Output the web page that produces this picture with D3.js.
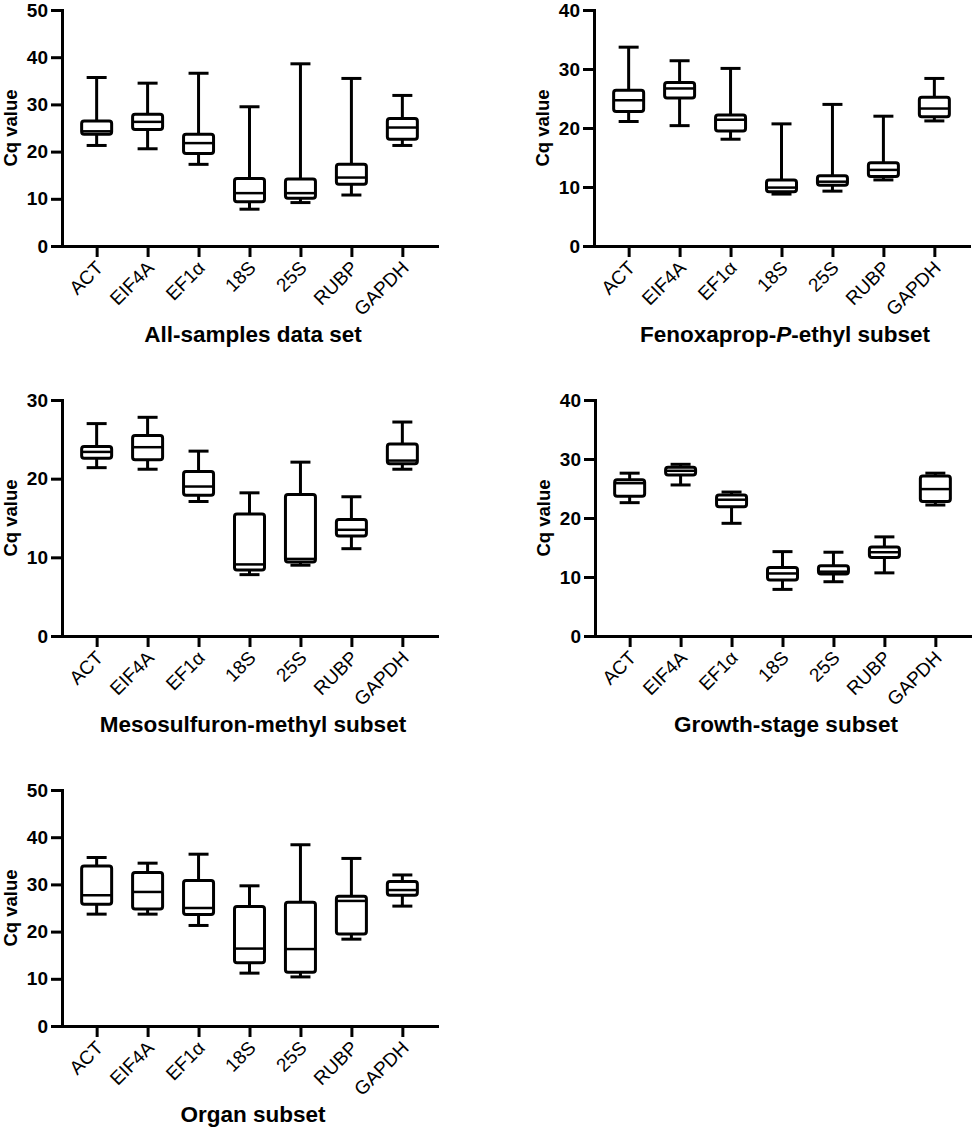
<!DOCTYPE html>
<html>
<head>
<meta charset="utf-8">
<script src="https://cdn.jsdelivr.net/npm/d3@7"></script>
<style>
  body { margin: 0; background: #fff; }
  svg { display: block; }
  text { font-family: "Liberation Sans", Arial, sans-serif; fill: #000; }
</style>
</head>
<body>
<svg id="chart" width="975" height="1128"></svg>
<script>
// Gene names (x categories)
const genes = ["ACT", "EIF4A", "EF1α", "18S", "25S", "RUBP", "GAPDH"];

// Five-number summaries per gene: [min, q1, median, q3, max]
const allSamples = [
  [21.3, 23.7, 24.3, 26.5, 35.7],
  [20.6, 24.7, 26.3, 27.9, 34.5],
  [17.3, 19.6, 21.8, 23.7, 36.6],
  [7.8, 9.4, 11.2, 14.3, 29.5],
  [9.2, 10.1, 11.2, 14.2, 38.6],
  [10.8, 13.1, 14.5, 17.3, 35.5],
  [21.3, 22.6, 25.1, 27.0, 31.9]
];
const fenoxaprop = [
  [21.1, 22.8, 24.7, 26.4, 33.7],
  [20.4, 25.1, 26.7, 27.7, 31.4],
  [18.1, 19.5, 21.4, 22.2, 30.1],
  [8.8, 9.2, 9.9, 11.2, 20.7],
  [9.3, 10.3, 10.9, 11.9, 24.0],
  [11.2, 11.8, 12.9, 14.1, 22.0],
  [21.2, 21.9, 23.3, 25.2, 28.4]
];
const mesosulfuron = [
  [21.4, 22.6, 23.4, 24.1, 27.0],
  [21.2, 22.4, 24.0, 25.5, 27.8],
  [17.1, 17.9, 19.0, 20.9, 23.5],
  [7.8, 8.4, 9.1, 15.5, 18.2],
  [9.0, 9.4, 9.8, 18.0, 22.1],
  [11.1, 12.7, 13.5, 14.8, 17.7],
  [21.2, 21.9, 22.3, 24.4, 27.2]
];
const growthStage = [
  [22.6, 23.7, 25.9, 26.5, 27.6],
  [25.6, 27.3, 28.0, 28.6, 29.1],
  [19.1, 21.9, 23.1, 23.9, 24.4],
  [7.9, 9.5, 10.6, 11.6, 14.3],
  [9.2, 10.5, 10.9, 11.9, 14.2],
  [10.7, 13.3, 14.2, 15.1, 16.8],
  [22.2, 22.8, 24.9, 27.1, 27.6]
];
const organ = [
  [23.7, 25.8, 27.7, 33.9, 35.7],
  [23.7, 24.8, 28.4, 32.5, 34.5],
  [21.3, 23.6, 25.0, 30.8, 36.4],
  [11.2, 13.4, 16.4, 25.3, 29.7],
  [10.4, 11.4, 16.3, 26.2, 38.4],
  [18.4, 19.5, 26.5, 27.5, 35.5],
  [25.4, 27.7, 28.8, 30.6, 32.0]
];

// Y-axis maxima per panel
const yMaxima = [50, 40, 30, 40, 50];
const yTickStep = 10;
const yLabel = "Cq value";
const panelTitles = [
  ["All-samples data set"],
  ["Fenoxaprop-", "P", "-ethyl subset"],
  ["Mesosulfuron-methyl subset"],
  ["Growth-stage subset"],
  ["Organ subset"]
];
const panelData = [allSamples, fenoxaprop, mesosulfuron, growthStage, organ];

// Layout
const panels = [
  { ox: 62,  bottom: 246 },
  { ox: 594, bottom: 246 },
  { ox: 62,  bottom: 636 },
  { ox: 595, bottom: 636 },
  { ox: 62,  bottom: 1026 }
];
const plotH = 236, plotW = 375;
const svg = d3.select("#chart");

panels.forEach((p, pi) => {
  const g = svg.append("g").attr("transform", `translate(${p.ox},${p.bottom - plotH})`);
  const data = panelData[pi];
  const ymax = yMaxima[pi];

  const y = d3.scaleLinear().domain([0, ymax]).range([plotH, 0]);
  const x = d3.scalePoint().domain(genes).range([0, plotW]).padding(0.68);

  // Y axis
  const yAxis = g.append("g")
    .call(d3.axisLeft(y)
      .tickValues(d3.range(0, ymax + 0.1, yTickStep))
      .tickSize(11).tickSizeOuter(0).tickPadding(3));
  yAxis.select(".domain").attr("stroke-width", 3).attr("stroke-linecap", "square");
  yAxis.selectAll(".tick line").attr("stroke-width", 3);
  yAxis.selectAll(".tick text")
    .style("font-size", "19px").style("font-weight", "bold");

  // X axis
  const xAxis = g.append("g").attr("transform", `translate(0,${plotH})`)
    .call(d3.axisBottom(x).tickSize(11).tickSizeOuter(0));
  xAxis.select(".domain").attr("stroke-width", 3).attr("stroke-linecap", "square");
  xAxis.selectAll(".tick line").attr("stroke-width", 3);
  xAxis.selectAll(".tick text")
    .attr("x", 0).attr("y", 0).attr("dy", 0)
    .attr("transform", "translate(7,23) rotate(-45)")
    .style("text-anchor", "end")
    .style("font-size", "19px");

  // Y label
  g.append("text")
    .attr("transform", `translate(${-45},${plotH / 2}) rotate(-90)`)
    .attr("text-anchor", "middle")
    .style("font-size", "18.5px").style("font-weight", "bold")
    .text(yLabel);

  // Boxes
  const boxW = 30, capW = 20;
  const boxes = g.selectAll(".box").data(data).join("g")
    .attr("class", "box")
    .attr("transform", (d, i) => `translate(${x(genes[i])},0)`);

  boxes.append("line")
    .attr("x1", 0).attr("x2", 0)
    .attr("y1", d => y(d[4])).attr("y2", d => y(d[3]))
    .attr("stroke", "#000").attr("stroke-width", 3);
  boxes.append("line")
    .attr("x1", 0).attr("x2", 0)
    .attr("y1", d => y(d[1])).attr("y2", d => y(d[0]))
    .attr("stroke", "#000").attr("stroke-width", 3);
  boxes.append("line")
    .attr("x1", -capW / 2).attr("x2", capW / 2)
    .attr("y1", d => y(d[4])).attr("y2", d => y(d[4]))
    .attr("stroke", "#000").attr("stroke-width", 3);
  boxes.append("line")
    .attr("x1", -capW / 2).attr("x2", capW / 2)
    .attr("y1", d => y(d[0])).attr("y2", d => y(d[0]))
    .attr("stroke", "#000").attr("stroke-width", 3);
  boxes.append("rect")
    .attr("x", -boxW / 2).attr("width", boxW)
    .attr("y", d => y(d[3])).attr("height", d => y(d[1]) - y(d[3]))
    .attr("rx", 2.5)
    .attr("fill", "#fff").attr("stroke", "#000").attr("stroke-width", 3);
  boxes.append("line")
    .attr("x1", -boxW / 2).attr("x2", boxW / 2)
    .attr("y1", d => y(d[2])).attr("y2", d => y(d[2]))
    .attr("stroke", "#000").attr("stroke-width", 2.5);

  // Title
  const t = g.append("text")
    .attr("x", 191).attr("y", plotH + 96)
    .attr("text-anchor", "middle")
    .style("font-size", "22.5px").style("font-weight", "bold");
  panelTitles[pi].forEach((s, k) => {
    t.append("tspan").text(s).style("font-style", (panelTitles[pi].length === 3 && k === 1) ? "italic" : "normal");
  });
});
</script>
</body>
</html>
